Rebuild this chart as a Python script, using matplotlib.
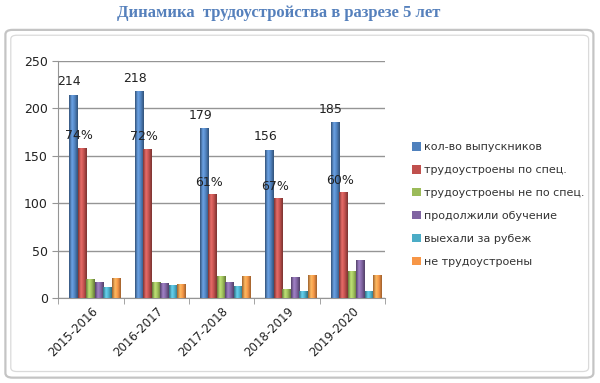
import matplotlib
matplotlib.use("Agg")
import matplotlib.pyplot as plt
import numpy as np
from matplotlib.patches import FancyBboxPatch
from matplotlib.colors import to_rgb, LinearSegmentedColormap

categories = ["2015-2016", "2016-2017", "2017-2018", "2018-2019", "2019-2020"]
series_names = ["кол-во выпускников", "трудоустроены по спец.", "трудоустроены не по спец.",
                "продолжили обучение", "выехали за рубеж", "не трудоустроены"]
graduates = [214, 218, 179, 156, 185]
employed_spec = [158, 157, 109, 105, 111]
employed_other = [20, 16, 23, 9, 28]
continued = [16, 15, 16, 22, 40]
abroad = [11, 13, 12, 7, 7]
unemployed = [21, 14, 23, 24, 24]
pct_labels = ["74%", "72%", "61%", "67%", "60%"]
colors = ["#4F81BD", "#C0504D", "#9BBB59", "#8064A2", "#4BACC6", "#F79646"]

series = [graduates, employed_spec, employed_other, continued, abroad, unemployed]

fig = plt.figure(figsize=(6.0, 3.83), dpi=100)
plt.rcParams['font.family'] = ['DejaVu Sans']

# outer frame
frame = FancyBboxPatch((0.009, 0.014), 0.98, 0.908, boxstyle="round,pad=0.0,rounding_size=0.012",
                       transform=fig.transFigure, facecolor="white", edgecolor="#C4C4C4",
                       linewidth=1.6, zorder=-2)
fig.patches.append(frame)
frame2 = FancyBboxPatch((0.018, 0.03), 0.963, 0.878, boxstyle="round,pad=0.0,rounding_size=0.01",
                        transform=fig.transFigure, facecolor="none", edgecolor="#DADADA",
                        linewidth=0.9, zorder=-1)
fig.patches.append(frame2)

fig.text(0.465, 0.966, "Динамика  трудоустройства в разрезе 5 лет", ha="center", va="center",
         fontsize=12, fontweight="bold", color="#5580BC", family="Liberation Serif")

ax = fig.add_axes([0.097, 0.222, 0.545, 0.619])
ax.patch.set_alpha(0)
x = np.arange(len(categories))
w = 0.125
step = 0.13
offsets = -0.27 + np.arange(6) * step

def shade(c):
    r, g, b = to_rgb(c)
    dark = (r * 0.62, g * 0.62, b * 0.62)
    light = tuple(min(1, v * 1.12 + 0.08) for v in (r, g, b))
    return LinearSegmentedColormap.from_list("s", [dark, light, (r, g, b), dark])

grad = np.linspace(0, 1, 64).reshape(1, -1)
for i, (vals, name, col) in enumerate(zip(series, series_names, colors)):
    bars = ax.bar(x + offsets[i], vals, width=w, color=col, label=name, zorder=3,
                  edgecolor="none")
    cm = shade(col)
    for b in bars:
        bx, by, bw, bh = b.get_x(), b.get_y(), b.get_width(), b.get_height()
        ax.imshow(grad, cmap=cm, aspect="auto", extent=(bx, bx + bw, by, by + bh),
                  zorder=3.5, interpolation="bicubic")
    if i == 0:
        for xi, v in zip(x + offsets[i], vals):
            ax.text(xi - 0.06, v + 7, str(v), ha="center", va="bottom", fontsize=9, color="#222222", zorder=5)
    if i == 1:
        for xi, v, t in zip(x + offsets[i], vals, pct_labels):
            ax.text(xi - 0.05, v + 6, t, ha="center", va="bottom", fontsize=9, color="#222222", zorder=5)

ax.set_xlim(-0.5, len(categories) - 0.5)
ax.set_ylim(0, 250)
ax.set_yticks([0, 50, 100, 150, 200, 250])
ax.yaxis.grid(True, color="#959595", linewidth=1.0, zorder=0)
ax.set_axisbelow(True)
for s in ["top", "right"]:
    ax.spines[s].set_visible(False)
ax.spines["left"].set_color("#959595")
ax.spines["bottom"].set_color("#959595")
ax.tick_params(axis="y", direction="out", length=4, color="#959595", labelsize=9, labelcolor="#222222")
ax.set_xticks(x)
ax.set_xticklabels(categories, rotation=45, ha="right", va="top", rotation_mode="anchor", fontsize=8.5,
                   color="#222222")
ax.tick_params(axis="x", length=0, pad=5)
ax.set_xticks(np.arange(len(categories) + 1) - 0.5, minor=True)
ax.tick_params(axis="x", which="minor", length=4, color="#959595", direction="out")

handles, labels = ax.get_legend_handles_labels()
leg = fig.legend(handles, labels, loc="upper left", bbox_to_anchor=(0.67, 0.655), frameon=False,
                 fontsize=8, handlelength=0.8, handleheight=0.8, handletextpad=0.3,
                 labelspacing=1.15, labelcolor="#333333")

fig.savefig("out.png", dpi=100)
